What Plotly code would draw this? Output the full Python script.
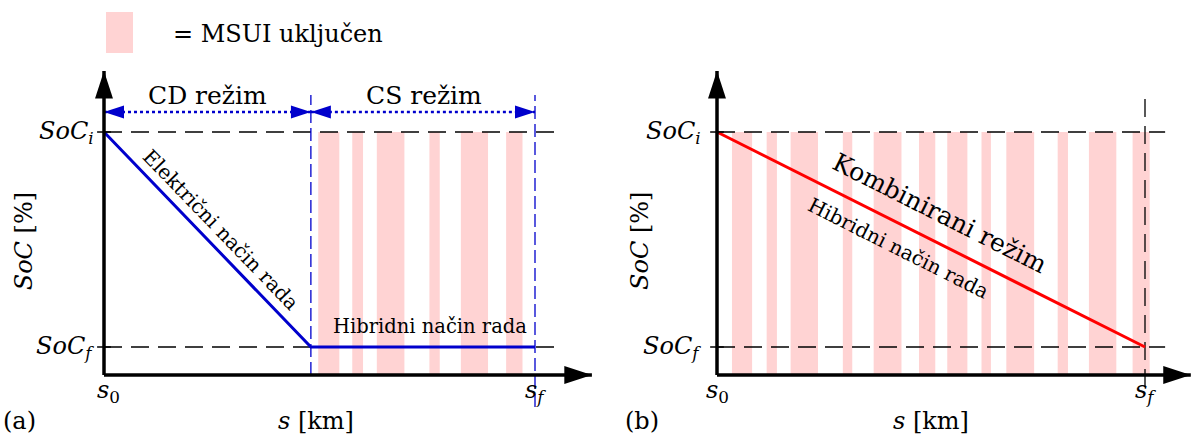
import plotly.graph_objects as go

# ---------------- data (normalised units: s0 = 0, sf = 1; SoC_f = 0, SoC_i = 1)
S_CD = 0.48                      # end of CD mode in panel (a)
a_s = [0.0, S_CD, 1.0]           # panel (a) SoC trajectory
a_soc = [1.0, 0.0, 0.0]
b_s = [0.0, 1.0]                 # panel (b) SoC trajectory
b_soc = [1.0, 0.0]

# intervals where the ICE (MSUI) is on
a_on_start = [0.497, 0.576, 0.633, 0.755, 0.828, 0.933]
a_on_end = [0.546, 0.601, 0.697, 0.779, 0.891, 0.971]
b_on_start = [0.035, 0.116, 0.172, 0.294, 0.366, 0.472, 0.538, 0.618, 0.676, 0.796, 0.869, 0.971]
b_on_end = [0.082, 0.140, 0.236, 0.316, 0.431, 0.510, 0.585, 0.640, 0.741, 0.820, 0.933, 1.011]

# ---------------- layout constants
W, H = 1193, 437
FONT = "DejaVu Serif"
PINK = "#FFD3D3"
BLUE = "#0000CC"
RED = "#FF0000"
AX_Y = -0.13          # position of the s-axis
Y_TIP = 1.284
XA_TIP = 1.132
XB_TIP = 1.107
YR = [-0.4186, 1.614]
XR_A = [-104 / 431, -104 / 431 + 600 / 431]
XR_B = [-117 / 428, -117 / 428 + 593 / 428]

fig = go.Figure()


def bars(starts, ends, xa, ya):
    centers = [(s + e) / 2 for s, e in zip(starts, ends)]
    widths = [e - s for s, e in zip(starts, ends)]
    fig.add_trace(go.Bar(x=centers, y=[1.0 - AX_Y] * len(centers), base=AX_Y,
                         width=widths, marker=dict(color=PINK, line=dict(width=0)),
                         xaxis=xa, yaxis=ya, showlegend=False, hoverinfo="skip"))


def line(xs, ys, xa, ya, color="black", width=1.3, dash="solid"):
    fig.add_trace(go.Scatter(x=xs, y=ys, mode="lines", xaxis=xa, yaxis=ya,
                             line=dict(color=color, width=width, dash=dash),
                             showlegend=False, hoverinfo="skip", cliponaxis=False))


def heads(xs, ys, angles, xa, ya, color="black", size=28):
    fig.add_trace(go.Scatter(x=xs, y=ys, mode="markers", xaxis=xa, yaxis=ya,
                             marker=dict(symbol="arrow", angle=angles, size=size,
                                         color=color, line=dict(width=0)),
                             showlegend=False, hoverinfo="skip", cliponaxis=False))


def text(t, x, y, xa, ya, size=26, angle=0, xanchor="center", yanchor="middle"):
    fig.add_annotation(text=t, x=x, y=y, xref=xa, yref=ya, showarrow=False,
                       textangle=angle, xanchor=xanchor, yanchor=yanchor,
                       font=dict(family=FONT, size=size, color="black"))


# ---------- panel (a)
bars(a_on_start, a_on_end, "x", "y")
line([0, 1.055], [1, 1], "x", "y", dash="18px,9px")
line([0, 1.055], [0, 0], "x", "y", dash="18px,9px")
line([S_CD, S_CD], [AX_Y, 1.172], "x", "y", color=BLUE, width=1.3, dash="13px,5px")
line([1, 1], [-0.279, 1.172], "x", "y", color=BLUE, width=1.3, dash="13px,5px")
line([0, S_CD], [1.093, 1.093], "x", "y", color=BLUE, width=2.5, dash="dot")
line([S_CD, 1], [1.093, 1.093], "x", "y", color=BLUE, width=2.5, dash="dot")
heads([0, S_CD, S_CD, 1], [1.093] * 4, [270, 90, 270, 90], "x", "y", color=BLUE, size=21)
line(a_s, a_soc, "x", "y", color=BLUE, width=3)
line([-0.016, 0.016], [1, 1], "x", "y", width=1.5)
line([-0.016, 0.016], [0, 0], "x", "y", width=1.5)
line([0, 0], [AX_Y, Y_TIP], "x", "y", width=3.5)
line([0, XA_TIP], [AX_Y, AX_Y], "x", "y", width=3.5)
heads([0, XA_TIP], [Y_TIP, AX_Y], [0, 90], "x", "y", size=29)

text("CD režim", 0.241, 1.172, "x", "y", size=25)
text("CS režim", 0.742, 1.172, "x", "y", size=25)
text("Električni način rada", 0.272, 0.545, "x", "y", size=20, angle=46)
text("Hibridni način rada", 0.756, 0.095, "x", "y", size=19.5)
text("<i>SoC</i><sub><i>i</i></sub>", -0.018, 1.0, "x", "y", size=24, xanchor="right")
text("<i>SoC</i><sub><i>f</i></sub>", -0.018, 0.0, "x", "y", size=24, xanchor="right")
text("<i>s</i><sub>0</sub>", 0.01, -0.205, "x", "y", size=24)
text("<i>s</i><sub><i>f</i></sub>", 1.0, -0.205, "x", "y", size=24)
text("<i>s</i> [km]", 0.492, -0.345, "x", "y", size=24)
text("(a)", -0.195, -0.345, "x", "y", size=24)
text("<i>SoC</i> [%]", -0.185, 0.493, "x", "y", size=24, angle=-90)

# ---------- panel (b)
bars(b_on_start, b_on_end, "x2", "y2")
line([0, 1.047], [1, 1], "x2", "y2", dash="18px,9px")
line([0, 1.047], [0, 0], "x2", "y2", dash="18px,9px")
line([1, 1], [-0.186, 1.158], "x2", "y2", width=1.3, dash="18px,9px")
line(b_s, b_soc, "x2", "y2", color=RED, width=3)
line([-0.016, 0.016], [1, 1], "x2", "y2", width=1.5)
line([-0.016, 0.016], [0, 0], "x2", "y2", width=1.5)
line([0, 0], [AX_Y, Y_TIP], "x2", "y2", width=3.5)
line([0, XB_TIP], [AX_Y, AX_Y], "x2", "y2", width=3.5)
heads([0, XB_TIP], [Y_TIP, AX_Y], [0, 90], "x2", "y2", size=29)

text("Kombinirani režim", 0.521, 0.62, "x2", "y2", size=25, angle=26.7)
text("Hibridni način rada", 0.423, 0.46, "x2", "y2", size=20, angle=26.7)
text("<i>SoC</i><sub><i>i</i></sub>", -0.033, 1.0, "x2", "y2", size=24, xanchor="right")
text("<i>SoC</i><sub><i>f</i></sub>", -0.033, 0.0, "x2", "y2", size=24, xanchor="right")
text("<i>s</i><sub>0</sub>", 0.0, -0.205, "x2", "y2", size=24)
text("<i>s</i><sub><i>f</i></sub>", 1.0, -0.205, "x2", "y2", size=24)
text("<i>s</i> [km]", 0.5, -0.345, "x2", "y2", size=24)
text("(b)", -0.175, -0.345, "x2", "y2", size=24)
text("<i>SoC</i> [%]", -0.18, 0.493, "x2", "y2", size=24, angle=-90)

# ---------- legend box
fig.add_shape(type="rect", xref="paper", yref="paper", x0=106 / W, x1=133 / W,
              y0=1 - 53 / H, y1=1 - 12 / H, fillcolor=PINK, line=dict(width=0), layer="below")
fig.add_annotation(text="= MSUI uključen", xref="paper", yref="paper", x=171 / W, y=1 - 34 / H,
                   xanchor="left", yanchor="middle", showarrow=False,
                   font=dict(family=FONT, size=24, color="black"))

ax_common = dict(visible=False, fixedrange=True)
fig.update_layout(
    width=W, height=H, margin=dict(l=0, r=0, t=0, b=0),
    paper_bgcolor="white", plot_bgcolor="white", barmode="overlay",
    font=dict(family=FONT),
    xaxis=dict(domain=[0, 600 / W], range=XR_A, anchor="y", **ax_common),
    yaxis=dict(domain=[0, 1], range=YR, anchor="x", **ax_common),
    xaxis2=dict(domain=[600 / W, 1], range=XR_B, anchor="y2", **ax_common),
    yaxis2=dict(domain=[0, 1], range=YR, anchor="x2", **ax_common),
    showlegend=False,
)

fig.write_html("out.html", config={"displayModeBar": False},
               post_script="document.body.style.margin='0';document.body.style.overflow='hidden';")
